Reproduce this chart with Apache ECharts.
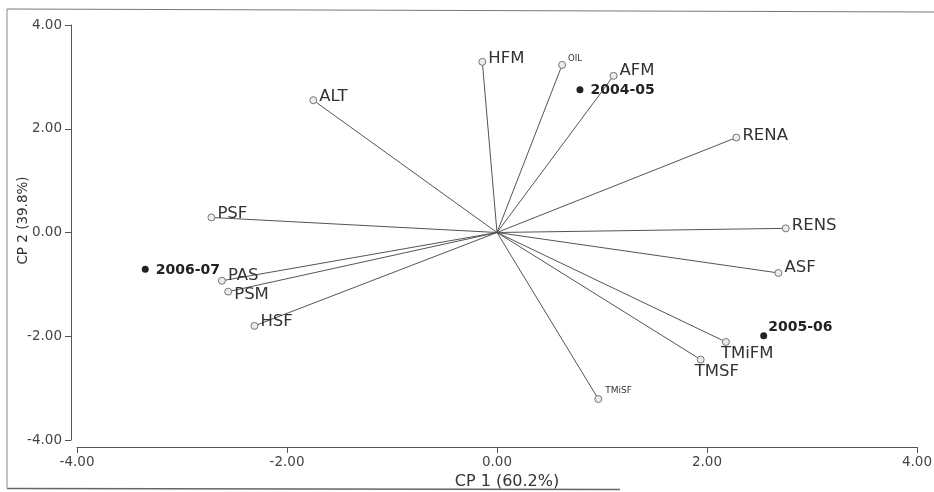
<!DOCTYPE html>
<html>
<head>
<meta charset="utf-8">
<script src="https://cdn.jsdelivr.net/npm/echarts@6/dist/echarts.min.js"></script>
<style>
html,body{margin:0;padding:0;background:#fff;}
#chart{width:934px;height:492px;}
</style>
</head>
<body>
<div id="chart"></div>
<script>
// ---- data ----
var varNames = ['HFM','OIL','AFM','ALT','RENA','RENS','PSF','PAS','PSM','HSF','TMiSF','ASF','TMiFM','TMSF'];
var varX = [-0.14, 0.62, 1.11, -1.75, 2.28, 2.75, -2.72, -2.62, -2.56, -2.31, 0.965, 2.68, 2.18, 1.94];
var varY = [3.29, 3.23, 3.02, 2.55, 1.83, 0.08, 0.29, -0.93, -1.14, -1.80, -3.21, -0.78, -2.11, -2.45];
var yearNames = ['2004-05','2005-06','2006-07'];
var yearX = [0.79, 2.54, -3.35];
var yearY = [2.75, -1.99, -0.71];
var axisTicks = [-4, -2, 0, 2, 4];
var xTitle = 'CP 1 (60.2%)';
var yTitle = 'CP 2 (39.8%)';

// ---- label styling (layout only) ----
var FONT = 'DejaVu Sans';
var varLabelStyle = {
  HFM:   {offset:[0,-3]},
  OIL:   {offset:[0,-6], fontSize:8.5},
  AFM:   {offset:[0,-5]},
  ALT:   {offset:[0,-4]},
  RENA:  {offset:[0,-2]},
  RENS:  {offset:[0,-3]},
  PSF:   {offset:[0,-4]},
  PAS:   {offset:[0,-5]},
  PSM:   {offset:[0,3]},
  HSF:   {offset:[0,-4]},
  TMiSF: {offset:[1,-8], fontSize:9}, 
  ASF:   {offset:[0,-5]},
  TMiFM: {offset:[-11,12]},
  TMSF:  {offset:[-12,12]}
};
var yearLabelStyle = {
  '2004-05': {offset:[0,1]},
  '2005-06': {offset:[-6,-8]},
  '2006-07': {offset:[0,1]}
};

var varData = varNames.map(function(n,i){
  var s = varLabelStyle[n] || {};
  return {
    name:n, value:[varX[i], varY[i]],
    label:{offset:s.offset||[0,0], fontSize:s.fontSize||16.5}
  };
});
var yearData = yearNames.map(function(n,i){
  var s = yearLabelStyle[n] || {};
  return {name:n, value:[yearX[i], yearY[i]], label:{offset:s.offset||[0,0]}};
});
var lineData = varNames.map(function(n,i){
  return {coords:[[0,0],[varX[i], varY[i]]]};
});

var chart = echarts.init(document.getElementById('chart'), null, {renderer:'canvas'});
var axisCommon = {
  type:'value', min:axisTicks[0], max:axisTicks[axisTicks.length-1], interval:2,
  splitLine:{show:false},
  axisLine:{show:true, onZero:false, lineStyle:{color:'#555', width:1}},
  axisTick:{show:true, length:6, lineStyle:{color:'#555'}},
  axisLabel:{color:'#444', fontFamily:FONT, fontSize:13.5, formatter:function(v){return v.toFixed(2);}},
  nameLocation:'middle',
  nameTextStyle:{color:'#333', fontFamily:FONT}
};
chart.setOption({
  backgroundColor:'#fff',
  animation:false,
  grid:{left:77, right:17, top:25, bottom:52, containLabel:false, outerBoundsMode:'none'},
  xAxis: Object.assign({}, axisCommon, {
    offset:7, name:xTitle, nameGap:25,
    axisLabel:Object.assign({}, axisCommon.axisLabel, {margin:8}),
    nameTextStyle:{color:'#333', fontFamily:FONT, fontSize:16, padding:[0,0,0,20]}
  }),
  yAxis: Object.assign({}, axisCommon, {
    offset:6, name:yTitle, nameGap:41, nameMoveOverlap:false,
    axisLabel:Object.assign({}, axisCommon.axisLabel, {margin:9}),
    nameTextStyle:{color:'#333', fontFamily:FONT, fontSize:13.5, padding:[0,0,0,24]}
  }),
  graphic:[
    {type:'line', shape:{x1:7,y1:9,x2:934,y2:12}, style:{stroke:'#777', lineWidth:1.2}, silent:true},
    {type:'line', shape:{x1:7,y1:9,x2:7,y2:488}, style:{stroke:'#888', lineWidth:1}, silent:true},
    {type:'line', shape:{x1:7,y1:488.5,x2:620,y2:489.5}, style:{stroke:'#666', lineWidth:1.5}, silent:true}
  ],
  series:[
    {
      type:'lines', coordinateSystem:'cartesian2d', silent:true, z:1,
      lineStyle:{color:'#555', width:1, opacity:1},
      data:lineData
    },
    {
      type:'scatter', z:3, symbol:'circle', symbolSize:7,
      itemStyle:{color:'#ececec', borderColor:'#777', borderWidth:1, opacity:1},
      label:{show:true, position:'right', distance:2, formatter:'{b}', color:'#333', fontFamily:FONT},
      data:varData
    },
    {
      type:'scatter', z:4, symbol:'circle', symbolSize:7,
      itemStyle:{color:'#222', opacity:1},
      label:{show:true, position:'right', distance:7, formatter:'{b}', color:'#222', fontFamily:FONT, fontSize:14, fontWeight:'bold'},
      data:yearData
    }
  ]
});
</script>
</body>
</html>
